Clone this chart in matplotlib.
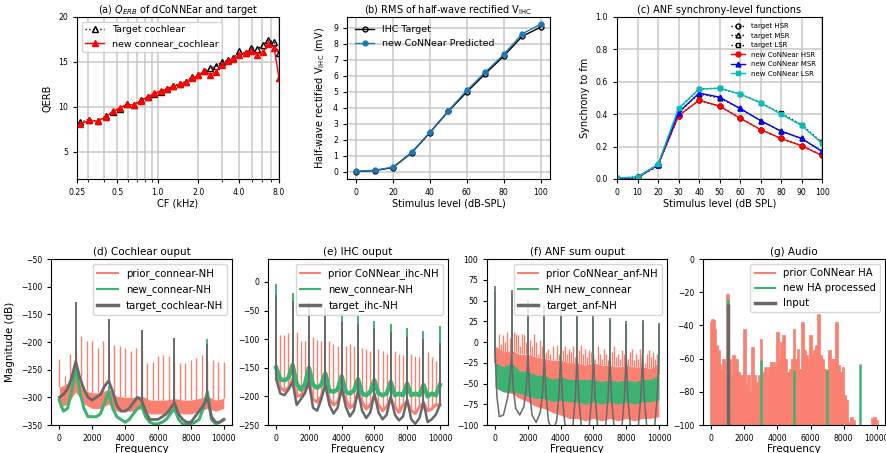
import numpy as np
import matplotlib
matplotlib.use('Agg')
import matplotlib.pyplot as plt
from matplotlib.lines import Line2D
from matplotlib.ticker import NullFormatter

# ---------------- data ----------------
# (a) QERB vs CF
cf_khz = [0.262, 0.308, 0.358, 0.408, 0.462, 0.520, 0.593, 0.664, 0.744, 0.839,
          0.94, 1.05, 1.17, 1.30, 1.46, 1.62, 1.80, 2.0, 2.22, 2.45,
          2.70, 3.0, 3.34, 3.65, 4.05, 4.51, 4.99, 5.50, 6.09, 6.67, 7.35, 8.0]
qerb_target = [8.3, 8.6, 8.4, 9.0, 9.4, 9.8, 10.3, 10.2, 10.8, 11.1,
               11.4, 11.7, 12.0, 12.3, 12.6, 12.8, 13.3, 13.5, 14.0, 14.3,
               14.5, 15.0, 15.2, 15.4, 16.2, 16.0, 16.6, 16.4, 16.9, 17.4, 17.2, 16.0]
qerb_new = [8.1, 8.5, 8.4, 8.9, 9.5, 9.9, 10.3, 10.2, 10.7, 11.1,
            11.5, 11.8, 12.0, 12.3, 12.5, 12.8, 13.2, 13.5, 14.0, 13.6,
            13.9, 14.7, 15.1, 15.3, 15.8, 16.0, 16.2, 15.8, 16.1, 17.0, 16.6, 13.2]

# (b) RMS of half-wave rectified VIHC
levels = [0, 10, 20, 30, 40, 50, 60, 70, 80, 90, 100]
ihc_target = [0.02, 0.08, 0.27, 1.18, 2.45, 3.78, 4.98, 6.12, 7.22, 8.45, 9.02]
ihc_pred = [0.03, 0.10, 0.30, 1.22, 2.48, 3.82, 5.08, 6.22, 7.32, 8.60, 9.20]

# (c) synchrony-level functions
sync_t_hsr = [0.0, 0.01, 0.083, 0.39, 0.485, 0.45, 0.375, 0.305, 0.25, 0.205, 0.145]
sync_t_msr = [0.0, 0.01, 0.083, 0.41, 0.525, 0.50, 0.435, 0.36, 0.295, 0.25, 0.17]
sync_t_lsr = [0.005, 0.012, 0.088, 0.43, 0.555, 0.56, 0.525, 0.47, 0.405, 0.335, 0.225]
sync_n_hsr = [0.003, 0.008, 0.085, 0.39, 0.485, 0.45, 0.375, 0.305, 0.25, 0.205, 0.145]
sync_n_msr = [0.003, 0.01, 0.088, 0.41, 0.53, 0.505, 0.435, 0.36, 0.295, 0.25, 0.17]
sync_n_lsr = [0.005, 0.012, 0.09, 0.435, 0.555, 0.56, 0.525, 0.47, 0.40, 0.33, 0.22]

# spectra frequency grids (FFT bins shown)
harm = [0, 1000, 2000, 3000, 4000, 5000, 6000, 7000, 8000, 9000, 10000]
odd_harm = [1000, 3000, 5000, 7000, 9000]
grid250 = list(range(0, 10001, 250))
grid500 = list(range(0, 10001, 500))

# (d) cochlear output
coch_prior_peak_f = list(np.linspace(0, 10000, 31))
coch_prior_peak = [-230, -262, -222, -215, -190, -198, -199, -211, -199, -217, -205,
                   -208, -211, -217, -211, -214, -238, -236, -226, -223, -226,
                   -236, -238, -238, -232, -229, -223, -235, -232, -236, -236]
coch_prior_hi = [-282, -275, -262, -288, -292, -292, -285, -298, -300, -300, -297,
                 -305, -305, -305, -302, -305, -305, -302, -298, -305, -302]
coch_prior_lo = [-318, -312, -290, -312, -320, -320, -312, -325, -325, -325, -320,
                 -330, -330, -330, -325, -330, -330, -325, -320, -325, -320]
coch_new_floor = [-305, -325, -320, -290, -245, -290, -320, -335, -335, -335, -330,
                  -310, -290, -320, -335, -340, -345, -340, -330, -320, -315,
                  -335, -345, -348, -348, -345, -340, -330, -320, -340, -348,
                  -348, -348, -345, -340, -320, -290, -340, -348, -345, -340]
coch_new_peak = [-230, -280, -300, -318, -195]
coch_target_floor = [-300, -295, -285, -265, -235, -265, -285, -300, -305, -300, -295,
                     -280, -270, -290, -315, -325, -325, -320, -310, -300, -305,
                     -325, -340, -340, -340, -335, -330, -320, -310, -330, -340,
                     -345, -345, -335, -325, -315, -300, -335, -345, -345, -340]
coch_target_peak = [-127, -158, -178, -192, -204]

# (e) IHC output
ihc_prior_peak_f = [g * 1000 + k * 250 for g in range(10) for k in (1, 2, 3)]
ihc_prior_peak = [-93, -93, -90, -88, -103, -104, -97, -101, -104, -104,
                  -109, -112, -112, -109, -112, -115, -117, -120, -117, -120,
                  -126, -120, -126, -128, -126, -129, -132, -122, -131, -138]
ihc_prior_floor = [-160, -185, -190, -185, -170, -200, -198, -190, -175, -205, -210,
                   -200, -180, -205, -215, -210, -190, -205, -220, -215, -195,
                   -210, -222, -215, -200, -215, -225, -218, -205, -218, -228,
                   -215, -210, -225, -230, -218, -212, -225, -222, -215, -215]
ihc_new_floor = [-150, -170, -172, -168, -145, -178, -188, -180, -150, -180, -185,
                 -180, -160, -190, -192, -188, -165, -192, -195, -190, -170,
                 -195, -198, -192, -172, -195, -198, -195, -175, -198, -195,
                 -198, -178, -198, -195, -198, -180, -200, -195, -198, -180]
ihc_new_peak = [-4, -20, -36, -45, -55, -59, -68, -74, -81, -85, -77]
ihc_target_floor = [-170, -195, -198, -188, -175, -215, -205, -195, -175, -220, -225,
                    -205, -180, -215, -230, -220, -185, -218, -235, -225, -190,
                    -225, -238, -228, -195, -228, -240, -232, -200, -232, -242,
                    -235, -205, -240, -248, -238, -210, -245, -240, -232, -215]
ihc_target_peak = [-23, -33, -36, -53, -70, -74, -81, -87, -97, -100, -106]

# (f) ANF sum output
anf_prior_peak_f = [g * 1000 + k * 125 for g in range(10) for k in range(1, 8)]
anf_prior_peak = [-10, 10, -2, 8, 0, 12, 5,
                  12, 10, 8, -5, 10, 8, 0,
                  3, -5, 10, 0, -15, 3, -5,
                  -12, -8, -15, -5, -20, -3, -15,
                  -10, -5, -15, -8, -12, -5, -18,
                  -10, -3, -15, -8, -18, -10, -12,
                  -20, -5, -15, -20, -8, -15, -22,
                  -12, -5, -18, -15, -20, -10, -15,
                  -20, -12, -8, -22, -15, -20, -8,
                  -25, -15, -10, -18, -12, -20, -15]
anf_prior_hi = [-5, -12, -10, -15, -15, -18, -20, -22, -22, -25, -25,
                -28, -25, -28, -28, -30, -28, -30, -30, -32, -25]
anf_prior_lo = [-55, -60, -62, -68, -72, -78, -80, -85, -88, -92, -92,
                -95, -92, -95, -92, -95, -92, -95, -92, -92, -90]
anf_new_hi = [-25, -30, -25, -35, -35, -40, -40, -45, -42, -45, -45,
              -45, -45, -48, -45, -48, -45, -48, -45, -45, -40]
anf_new_lo = [-55, -60, -60, -62, -65, -68, -68, -72, -70, -72, -72,
              -75, -72, -75, -72, -75, -72, -75, -72, -72, -70]
anf_new_peak = [60, 58, 46, 40, 34, 30, 29, 26, 22, 23, 21]
anf_target_f = [0, 100, 250, 500, 750, 900,
                1000, 1100, 1250, 1500, 1750, 1900,
                2000, 2100, 2250, 2500, 2750, 2900,
                3000, 3100, 3250, 3500, 3750, 3900,
                4000, 4100, 4250, 4500, 4750, 4900,
                5000, 5100, 5250, 5500, 5750, 5900,
                6000, 6100, 6250, 6500, 6750, 6900,
                7000, 7100, 7250, 7500, 7750, 7900,
                8000, 8100, 8250, 8500, 8750, 8900,
                9000, 9100, 9250, 9500, 9750, 9900, 10000]
anf_target_floor = [-15, -65, -90, -88, -68, -45,
                    -15, -55, -80, -88, -78, -55,
                    -15, -60, -88, -97, -85, -60,
                    -15, -62, -95, -108, -95, -62,
                    -15, -65, -98, -112, -100, -65,
                    -15, -65, -100, -115, -100, -65,
                    -15, -65, -100, -115, -100, -65,
                    -15, -65, -100, -115, -100, -65,
                    -15, -65, -100, -115, -100, -65,
                    -15, -65, -100, -115, -100, -65, -15]
anf_target_peak = [68, 63, 51, 45, 38, 33, 32, 29, 25, 26, 23]

# (g) audio
audio_prior_f = [0, 60, 120, 220, 320, 430, 530, 630, 730, 830,
                 930, 1000, 1130, 1230, 1330, 1430, 1540, 1640, 1740, 1840,
                 2000, 2150, 2250, 2350, 2490, 2610, 2750, 2900, 3000, 3160,
                 3260, 3360, 3500, 3620, 3765, 3870, 3990, 4110, 4230, 4370,
                 4470, 4610, 4780, 4920, 5000, 5140, 5240, 5385, 5490, 5610,
                 5750, 5890, 6010, 6130, 6255, 6360, 6500, 6600, 6740, 6900,
                 7000, 7145, 7310, 7450, 7550, 7670, 7810, 7960, 8060, 8180,
                 8280, 8480, 8580, 9740, 9880, 10000]
audio_prior = [-38, -36, -37, -42, -52, -55, -63, -66, -60, -62,
               -70, -21, -60, -70, -58, -68, -60, -68, -72, -70,
               -42, -75, -70, -80, -53, -70, -74, -70, -48, -68,
               -65, -70, -65, -62, -62, -65, -44, -60, -50, -46,
               -60, -68, -66, -60, -42, -60, -54, -66, -38, -55,
               -58, -60, -46, -58, -55, -52, -33, -58, -60, -66,
               -68, -55, -60, -60, -38, -64, -68, -65, -82, -85,
               -98, -95, -97, -96, -95, -97]
audio_new_f = [1000, 3000, 5000, 7000, 9000]
audio_new = [-24, -61, -67, -67, -63]
audio_input_f = [1000]
audio_input = [-27]

RED = 'salmon'
GREEN = 'mediumseagreen'
GRAY = 'dimgray'

plt.rcParams['font.family'] = 'DejaVu Sans'


def spikes(ax, f_peak, v_peak, f_floor, v_floor, color, lw):
    base = np.interp(f_peak, f_floor, v_floor)
    ax.vlines(f_peak, base, v_peak, colors=color, lw=lw)


def top_style(ax):
    ax.grid(True, which='both', color='#c8c8c8', lw=1.1)
    ax.set_axisbelow(True)
    ax.tick_params(labelsize=5.6, length=3)


def bottom_style(ax, title, ylim, yticks, labels):
    ax.set_title(title, fontsize=7.5, pad=3)
    ax.set_xlim(-500, 10500)
    ax.set_xticks([0, 2000, 4000, 6000, 8000, 10000])
    ax.set_ylim(*ylim)
    ax.set_yticks(yticks)
    ax.tick_params(labelsize=5.6, length=3)
    ax.set_xlabel('Frequency', fontsize=7.5, labelpad=1)
    handles = [Line2D([], [], color=RED, lw=1.5),
               Line2D([], [], color=GREEN, lw=1.5),
               Line2D([], [], color=GRAY, lw=2.5)]
    ax.legend(handles, labels, loc='upper right', fontsize=7.3)


fig = plt.figure(figsize=(8.86, 4.53), dpi=100)

# ---------------- (a) ----------------
ax = fig.add_axes([0.0869, 0.605, 0.228, 0.3576])
ax.plot(cf_khz, qerb_target, 'k:^', mfc='none', ms=4, lw=1, label='Target cochlear')
ax.plot(cf_khz, qerb_new, 'r-^', ms=4, lw=1, label='new connear_cochlear')
ax.set_xscale('log')
ax.set_xlim(0.25, 8)
ax.set_xticks([0.25, 0.5, 1, 2, 4, 8])
ax.set_xticklabels(['0.25', '0.5', '1.0', '2.0', '4.0', '8.0'])
ax.xaxis.set_minor_formatter(NullFormatter())
ax.set_ylim(2, 20)
ax.set_yticks([5, 10, 15, 20])
top_style(ax)
ax.set_xlabel('CF (kHz)', fontsize=7, labelpad=1)
ax.set_ylabel('QERB', fontsize=7)
ax.set_title('(a) $Q_{ERB}$ of dCoNNEar and target', fontsize=7, pad=3)
ax.legend(loc='upper left', fontsize=6.8)

# ---------------- (b) ----------------
ax = fig.add_axes([0.3916, 0.605, 0.229, 0.3576])
ax.plot(levels, ihc_target, 'k-o', mfc='none', ms=3.5, lw=1, label='IHC Target')
ax.plot(levels, ihc_pred, '-o', color='#1f77b4', ms=3.5, lw=1,
        label='new CoNNear Predicted')
ax.set_xticks([0, 20, 40, 60, 80, 100])
ax.set_yticks(range(10))
ax.set_ylim(-0.44, 9.66)
top_style(ax)
ax.set_xlabel('Stimulus level (dB-SPL)', fontsize=7, labelpad=1)
ax.set_ylabel('Half-wave rectified V$_{\\rm IHC}$ (mV)', fontsize=7)
ax.set_title('(b) RMS of half-wave rectified V$_{\\rm IHC}$', fontsize=7, pad=3)
ax.legend(loc='upper left', fontsize=6.8, frameon=False)

# ---------------- (c) ----------------
ax = fig.add_axes([0.6964, 0.605, 0.2314, 0.3576])
ax.plot(levels, sync_t_hsr, 'k:o', mfc='none', ms=3.5, lw=1, label='target HSR')
ax.plot(levels, sync_t_msr, 'k:^', mfc='none', ms=3.5, lw=1, label='target MSR')
ax.plot(levels, sync_t_lsr, 'k:s', mfc='none', ms=3.5, lw=1, label='target LSR')
ax.plot(levels, sync_n_hsr, 'r-o', ms=3.5, lw=1, label='new CoNNear HSR')
ax.plot(levels, sync_n_msr, 'b-^', ms=3.5, lw=1, label='new CoNNear MSR')
ax.plot(levels, sync_n_lsr, 'c-s', ms=3.5, lw=1, label='new CoNNear LSR')
ax.set_xlim(0, 100)
ax.set_xticks(levels)
ax.set_ylim(0, 1)
ax.set_yticks([0, 0.2, 0.4, 0.6, 0.8, 1.0])
top_style(ax)
ax.set_xlabel('Stimulus level (dB SPL)', fontsize=7, labelpad=1)
ax.set_ylabel('Synchrony to fm', fontsize=7)
ax.set_title('(c) ANF synchrony-level functions', fontsize=7, pad=3)
ax.legend(loc='upper right', fontsize=5, frameon=False)

# ---------------- (d) ----------------
ax = fig.add_axes([0.0576, 0.0618, 0.2043, 0.3664])
ax.fill_between(grid500, coch_prior_lo, coch_prior_hi, color=RED, lw=0)
spikes(ax, coch_prior_peak_f, coch_prior_peak, grid500, coch_prior_hi, RED, 1.0)
ax.plot(grid250, coch_new_floor, color=GREEN, lw=2.2)
spikes(ax, odd_harm, coch_new_peak, grid250, coch_new_floor, GREEN, 1.3)
ax.plot(grid250, coch_target_floor, color=GRAY, lw=2.0)
spikes(ax, odd_harm, coch_target_peak, grid250, coch_target_floor, GRAY, 1.4)
bottom_style(ax, '(d) Cochlear ouput', (-350, -50), range(-350, -49, 50),
             ['prior_connear-NH', 'new_connear-NH', 'target_cochlear-NH'])
ax.set_ylabel('Magnitude (dB)', fontsize=7.5)

# ---------------- (e) ----------------
ax = fig.add_axes([0.3025, 0.0618, 0.2032, 0.3664])
ax.plot(grid250, ihc_prior_floor, color=RED, lw=2.2)
spikes(ax, ihc_prior_peak_f, ihc_prior_peak, grid250, ihc_prior_floor, RED, 1.0)
ax.plot(grid250, ihc_new_floor, color=GREEN, lw=3.2)
spikes(ax, harm, ihc_new_peak, grid250, ihc_new_floor, GREEN, 1.4)
ax.plot(grid250, ihc_target_floor, color=GRAY, lw=1.8)
spikes(ax, harm, ihc_target_peak, grid250, ihc_target_floor, GRAY, 1.4)
bottom_style(ax, '(e) IHC ouput', (-250, 40), range(-250, 1, 50),
             ['prior CoNNear_ihc-NH', 'new_connear-NH', 'target_ihc-NH'])

# ---------------- (f) ----------------
ax = fig.add_axes([0.5497, 0.0618, 0.2032, 0.3664])
ax.fill_between(grid500, anf_prior_lo, anf_prior_hi, color=RED, lw=0)
spikes(ax, anf_prior_peak_f, anf_prior_peak, grid500, anf_prior_hi, RED, 1.0)
ax.fill_between(grid500, anf_new_lo, anf_new_hi, color=GREEN, lw=0)
spikes(ax, harm, anf_new_peak, grid500, anf_new_hi, GREEN, 1.2)
ax.plot(anf_target_f, anf_target_floor, color=GRAY, lw=1.1)
spikes(ax, harm, anf_target_peak, anf_target_f, anf_target_floor, GRAY, 1.2)
bottom_style(ax, '(f) ANF sum ouput', (-100, 100), range(-100, 101, 25),
             ['prior CoNNear_anf-NH', 'NH new_connear', 'target_anf-NH'])

# ---------------- (g) ----------------
ax = fig.add_axes([0.7935, 0.0618, 0.2054, 0.3664])
ax.bar(audio_prior_f, np.array(audio_prior) + 100, bottom=-100, width=170,
       color=RED, edgecolor=RED, lw=0.5)
ax.vlines(audio_new_f, -100, audio_new, colors=GREEN, lw=1.8)
ax.vlines(audio_input_f, -100, audio_input, colors=GRAY, lw=2.5)
bottom_style(ax, '(g) Audio', (-100, 0), range(-100, 1, 20),
             ['prior CoNNear HA', 'new HA processed', 'Input'])

fig.savefig('out.png', dpi=100)
